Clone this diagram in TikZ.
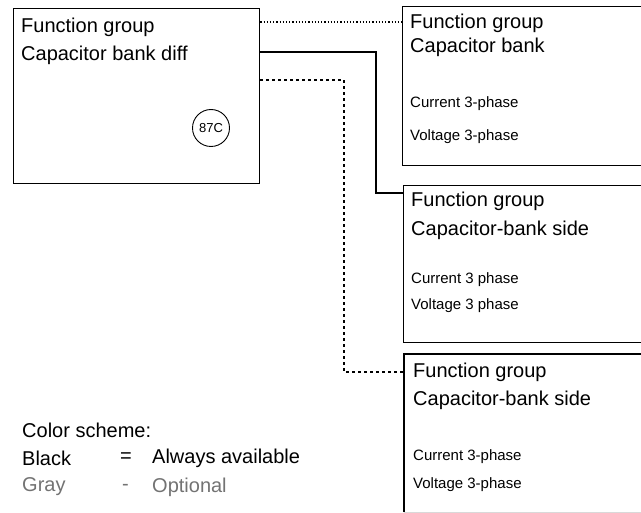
\documentclass[tikz,border=0pt]{standalone}
\usepackage{fontspec}
\setmainfont{Liberation Sans}
\begin{document}
\begin{tikzpicture}[x=1pt,y=-1pt,
  fbox/.style={draw=black, line width=1.3pt, rectangle, anchor=north west, inner sep=0pt},
  big/.style={anchor=west, inner sep=0pt, font=\fontsize{20}{24}\selectfont},
  small/.style={anchor=west, inner sep=0pt, font=\fontsize{15}{18}\selectfont},
  legend/.style={anchor=west, inner sep=0pt, font=\fontsize{20}{24}\selectfont},
  optc/.style={text=black!55},
  conn/.style={line width=1.2pt},
  relay/.style={draw, circle, line width=0.9pt, minimum size=37pt, inner sep=0pt, font=\fontsize{13}{15}\selectfont}
]
\clip (0,0) rectangle (641,513);
\fill[white] (0,0) rectangle (641,513);

% boxes
\node[fbox, minimum width=246pt, minimum height=175pt] (b1) at (13,8) {};
\node[fbox, minimum width=260pt, minimum height=159pt] (b2) at (402,6) {};
\node[fbox, minimum width=260pt, minimum height=157pt] (b3) at (403,185) {};
\node[fbox, draw=none, minimum width=260pt, minimum height=157pt] (b4) at (404,354) {};
\draw[line width=1.3pt] (b4.south west) -- (b4.north west) -- (b4.north east);
\draw[line width=1pt, black!15] (b4.south west) -- (b4.south east);

% box 1 text
\node[big] (t1a) at (21,27) {Function group};
\node[big] (t1b) at (21,55) {Capacitor bank diff};
\node[relay] (r87) at (211,128) {87C};

% box 2 text
\node[big] (t2a) at (410,23) {Function group};
\node[big] (t2b) at (410,47) {Capacitor bank};
\node[small] (t2c) at (410,104) {Current 3-phase};
\node[small] (t2d) at (410,137) {Voltage 3-phase};

% box 3 text
\node[big] (t3a) at (411,201) {Function group};
\node[big] (t3b) at (411,230) {Capacitor-bank side};
\node[small] (t3c) at (411,280) {Current 3 phase};
\node[small] (t3d) at (411,306) {Voltage 3 phase};

% box 4 text
\node[big] (t4a) at (413,372) {Function group};
\node[big] (t4b) at (413,400) {Capacitor-bank side};
\node[small] (t4c) at (413,457) {Current 3-phase};
\node[small] (t4d) at (413,485) {Voltage 3-phase};

% connectors
\coordinate (y1) at (0,22);
\coordinate (k2) at (376,52);
\coordinate (y2) at (0,193);
\coordinate (k3) at (344,80);
\coordinate (y3) at (0,372);
\draw[conn, dotted] (b1.east |- y1) -- (b2.west |- y1);
\draw[conn] (b1.east |- k2) -- (k2) |- (b3.west |- y2);
\draw[conn, dashed] (b1.east |- k3) -- (k3) |- (b4.west |- y3);

% legend
\node[legend] (lg) at (22,430) {Color scheme:};
\node[legend] (lb) at (22,458) {Black};
\node[legend] (lbe) at (120,458) {=};
\node[legend] (lbt) at (152,458) {Always available};
\node[legend, optc] (lgr) at (22,487) {Gray};
\node[legend, optc] (lge) at (122,487) {-};
\node[legend, optc] (lgt) at (152,487) {Optional};
\end{tikzpicture}
\end{document}
